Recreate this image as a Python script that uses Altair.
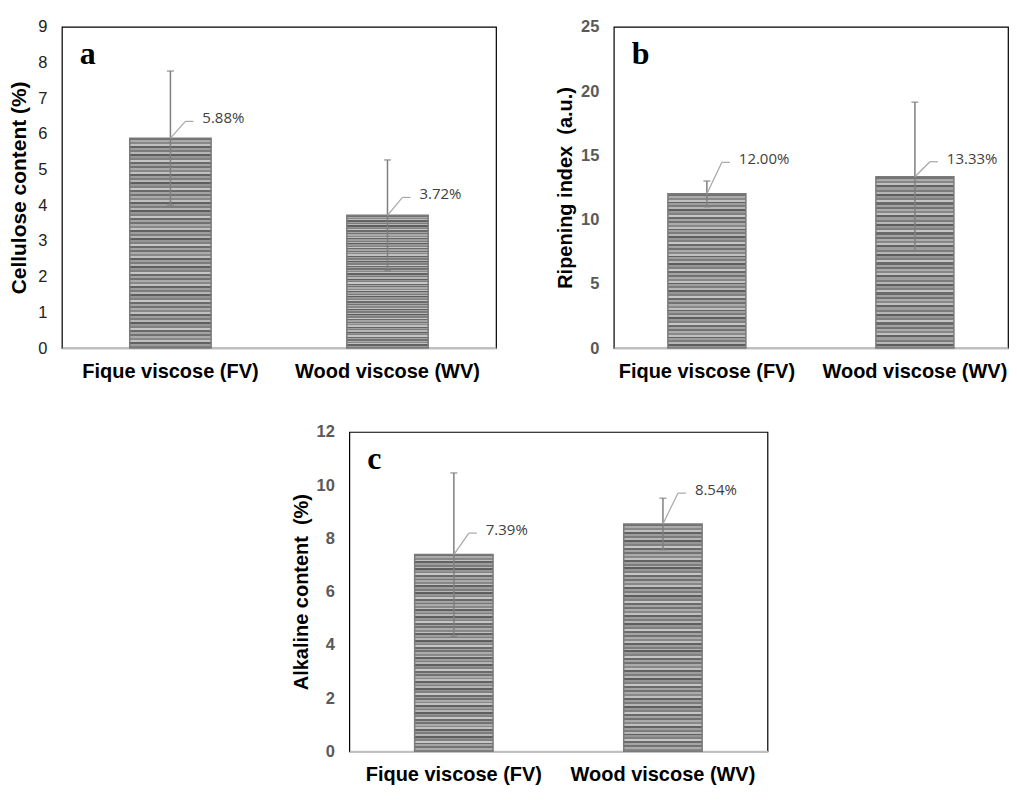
import altair as alt
import pandas as pd

# ---------------- data ----------------
categories = ["Fique viscose (FV)", "Wood viscose (WV)"]

cellulose = [5.88, 3.72]
cellulose_err = [1.88, 1.55]
cellulose_labels = ["5.88%", "3.72%"]
cellulose_label_y = [6.35, 4.22]

ripening = [12.00, 13.33]
ripening_err = [1.00, 5.80]
ripening_labels = ["12.00%", "13.33%"]
ripening_label_y = [14.45, 14.5]

alkaline = [7.39, 8.54]
alkaline_err = [3.07, 0.97]
alkaline_labels = ["7.39%", "8.54%"]
alkaline_label_y = [8.2, 9.7]

# ---------------- style helpers ----------------
STRIPES = ["#727272", "#ababab", "#888888", "#c0c0c0", "#626262", "#9e9e9e",
           "#7c7c7c", "#b6b6b6", "#5e5e5e", "#969696", "#808080", "#c6c6c6",
           "#6a6a6a", "#a4a4a4"]


def stripe_gradient(n):
    stops = []
    for i in range(n):
        c = STRIPES[i % len(STRIPES)]
        stops.append(alt.GradientStop(color=c, offset=i / n))
        stops.append(alt.GradientStop(color=c, offset=(i + 1) / n))
    return alt.LinearGradient(gradient="linear", stops=stops, x1=0, x2=0, y1=0, y2=1)


def panel(vals, errs, labels, label_y, ymax, ystep, letter, ytitle,
          width, height, nstripes, bold_ticks, pad_outer=0.3125, title_pad=6,
          title_size=20):
    df = pd.DataFrame({
        "cat": categories,
        "val": vals,
        "lo": [v - e for v, e in zip(vals, errs)],
        "hi": [v + e for v, e in zip(vals, errs)],
        "lab": labels,
        "laby": label_y,
    })
    xscale = alt.Scale(paddingInner=0.625, paddingOuter=pad_outer)
    xaxis = alt.Axis(title=None, labelAngle=0, ticks=False, tickSize=0,
                     labelLimit=0,
                     labelPadding=13, labelFontSize=20, labelFont="Liberation Sans",
                     labelFontWeight="bold", labelColor="#000000",
                     domainColor="#c0c0c0", domainWidth=2)
    yscale = alt.Scale(domain=[0, ymax], nice=False)
    yaxis = alt.Axis(title=ytitle, values=list(range(0, ymax + 1, ystep)),
                     grid=False, ticks=False, tickSize=0, domain=False,
                     labelOverlap=False,
                     labelPadding=15, labelFontSize=16.5, labelFont="Liberation Sans",
                     labelFontWeight="bold" if bold_ticks else "normal",
                     labelColor="#595959" if bold_ticks else "#222222",
                     titleFontSize=title_size, titleFont="Liberation Sans",
                     titleFontWeight="bold", titleColor="#000000",
                     titlePadding=title_pad)

    def X():
        return alt.X("cat:N", sort=categories, scale=xscale, axis=xaxis)

    def Y(field):
        return alt.Y(field, scale=yscale, axis=yaxis)

    base = alt.Chart(df)
    bars = base.mark_bar(fill=stripe_gradient(nstripes), stroke="#7a7a7a",
                         strokeWidth=1.5).encode(x=X(), y=Y("val:Q"))
    err = base.mark_rule(color="#7f7f7f", strokeWidth=1.5).encode(
        x=X(), y=Y("lo:Q"), y2="hi:Q")
    cap_hi = base.mark_tick(color="#7f7f7f", thickness=1.5, size=7,
                            orient="horizontal").encode(x=X(), y=Y("hi:Q"))
    cap_lo = base.mark_tick(color="#7f7f7f", thickness=1.5, size=7,
                            orient="horizontal").encode(x=X(), y=Y("lo:Q"))
    leader = base.mark_rule(color="#a6a6a6", strokeWidth=1.2, x2Offset=15).encode(
        x=X(), y=Y("val:Q"), x2="cat:N", y2="laby:Q")
    leader_h = base.mark_rule(color="#a6a6a6", strokeWidth=1.2, xOffset=15,
                              x2Offset=23).encode(x=X(), x2="cat:N", y=Y("laby:Q"))
    text = base.mark_text(align="left", baseline="middle", dx=32, dy=-3,
                          font="Open Sans", fontSize=15, color="#404040").encode(
        x=X(), y=Y("laby:Q"), text="lab:N")
    let = alt.Chart(pd.DataFrame({"t": [letter]})).mark_text(
        align="left", baseline="alphabetic", font="Liberation Serif",
        fontWeight="bold", fontSize=32, color="#000000").encode(
        x=alt.value(18), y=alt.value(37), text="t:N")
    return alt.layer(bars, err, cap_hi, cap_lo, leader, leader_h, text, let).properties(
        width=width, height=height)


pa = panel(cellulose, cellulose_err, cellulose_labels, cellulose_label_y, 9, 1, "a",
           "Cellulose content (%)", 435, 322, 105, False, title_pad=8, title_size=21)
pb = panel(ripening, ripening_err, ripening_labels, ripening_label_y, 25, 5, "b",
           "Ripening index\u00a0 (a.u.)", 395, 322, 80, True, pad_outer=0.26, title_pad=5)
pc = panel(alkaline, alkaline_err, alkaline_labels, alkaline_label_y, 12, 2, "c",
           "Alkaline content\u00a0 (%)", 419, 320, 115, True, title_pad=5)

spacer = alt.Chart(pd.DataFrame({"z": [0]})).mark_point(opacity=0).encode(
    x=alt.X("z:Q", axis=None), y=alt.Y("z:Q", axis=None)).properties(
    width=229, height=10, view=alt.ViewBackground(strokeOpacity=0))

row1 = alt.hconcat(pa, pb, spacing=58)
row2 = alt.hconcat(spacer, pc, spacing=0)
chart = alt.vconcat(row1, row2, spacing=41).properties(
    padding={"left": 0, "top": 9, "right": 0, "bottom": 0},
    background="white"
).configure_view(stroke="#000000", strokeWidth=1.2)

chart.save("out.html", embed_options={"renderer": "svg", "actions": False})
